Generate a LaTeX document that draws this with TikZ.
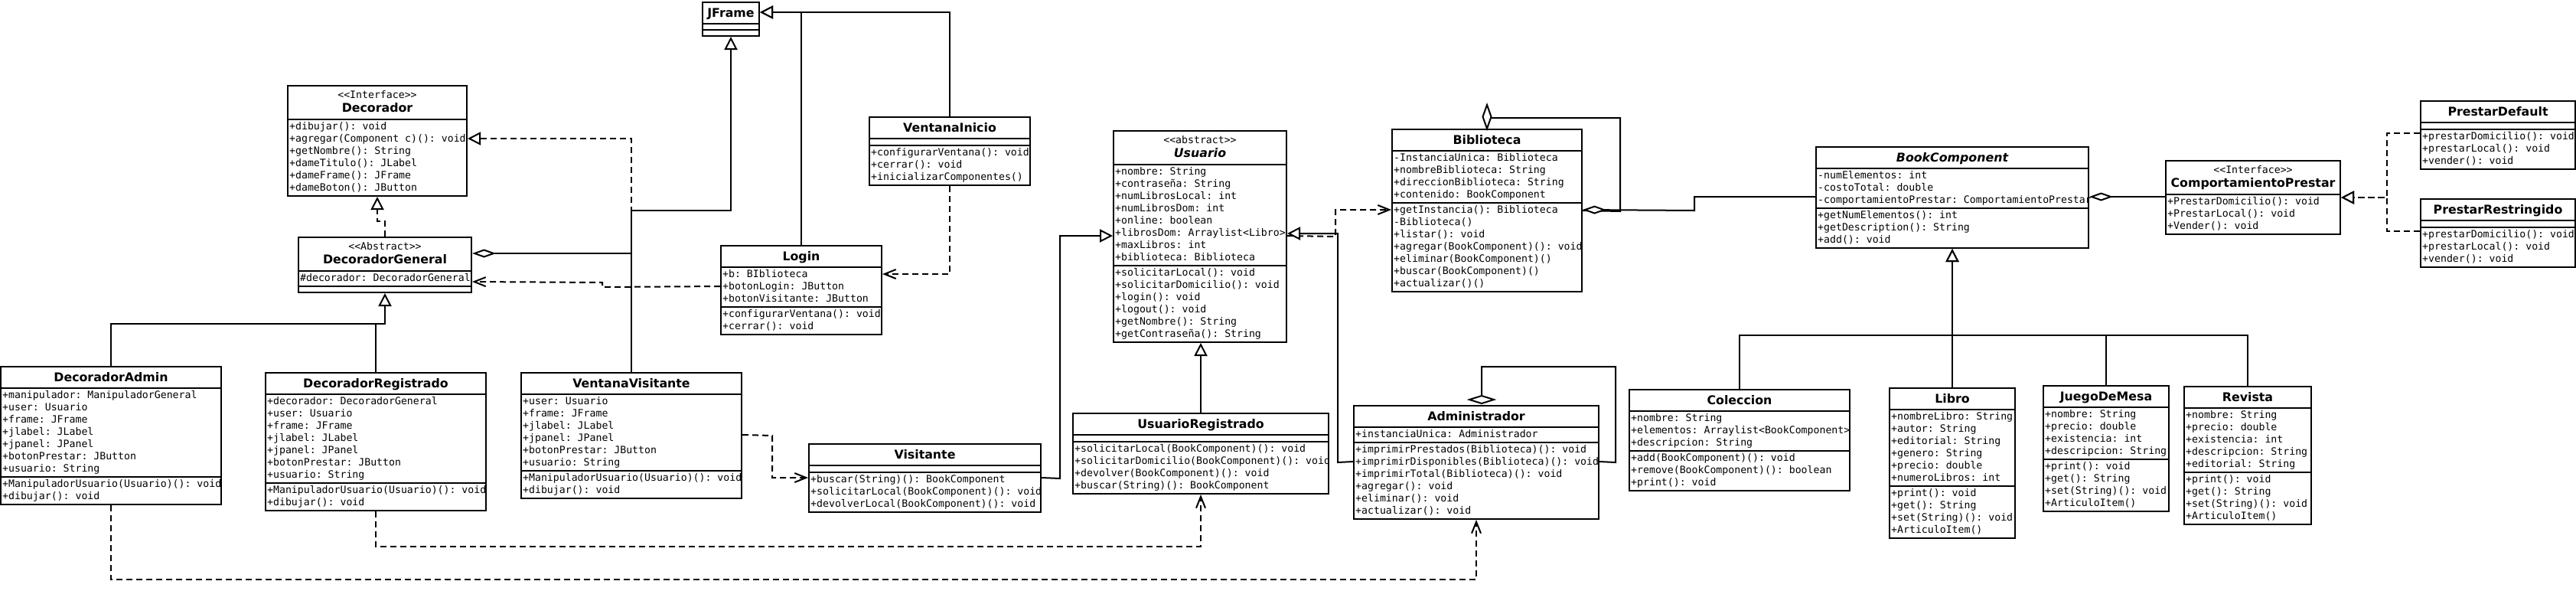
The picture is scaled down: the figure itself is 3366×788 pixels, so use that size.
\documentclass[tikz,border=0pt]{standalone}
\usepackage{fontspec}
\setmainfont{DejaVu Sans}
\setmonofont{DejaVu Sans Mono}
\usetikzlibrary{arrows.meta,calc,fit}
\newcommand\memfont{\ttfamily\fontsize{13.2}{16}\selectfont}
\newcommand\ttlfont{\fontsize{15.8}{18}\selectfont\bfseries}
\newcommand\lns[1]{\begin{tabular}[t]{@{}l@{}}#1\end{tabular}}
\begin{document}
\begin{tikzpicture}[x=1pt,y=-1pt,
 cls/.style={draw, line width=2pt, fill=white, inner sep=0pt},
 sepl/.style={line width=2pt},
 ttl/.style={anchor=base, inner sep=0pt, font=\ttlfont},
 ster/.style={anchor=base, inner sep=0pt, font=\memfont},
 mem/.style={anchor=base west, inner sep=0pt, font=\memfont},
 conn/.style={line width=2pt},
 dashl/.style={conn, dash pattern=on 8pt off 5pt},
 gen/.style={conn, -{Triangle[length=17pt,width=17pt,fill=white]}},
 real/.style={dashl, -{Triangle[length=17pt,width=17pt,fill=white]}},
 dep/.style={dashl, -{Straight Barb[length=15pt,width=12pt]}},
 agg/.style={conn, {Diamond[length=31pt,width=11pt,fill=white]}-},
 ]
\useasboundingbox (0,0) rectangle (3366,788);

% ---------- JFrame
\node[cls, fit={(918,3) (992,47)}] (jframe) {};
\draw[sepl] (918,31) -- (992,31) (918,39) -- (992,39);
\node[ttl] (jframe-t) at (955,22) {JFrame};

% ---------- Decorador
\node[cls, fit={(376,112) (610,256)}] (decorador) {};
\draw[sepl] (376,156) -- (610,156);
\node[ster] (decorador-s) at (493,128) {<<Interface>>};
\node[ttl] (decorador-t) at (493,146) {Decorador};
\node[mem] (decorador-m) at (378,169.5) {\lns{+dibujar(): void\\+agregar(Component c)(): void\\+getNombre(): String\\+dameTitulo(): JLabel\\+dameFrame(): JFrame\\+dameBoton(): JButton}};

% ---------- DecoradorGeneral
\node[cls, fit={(390,310) (616,382)}] (decgen) {};
\draw[sepl] (390,354) -- (616,354) (390,374) -- (616,374);
\node[ster] (decgen-s) at (503,326) {<<Abstract>>};
\node[ttl] (decgen-t) at (503,344) {DecoradorGeneral};
\node[mem] (decgen-a) at (392,367.5) {\lns{\#decorador: DecoradorGeneral}};

% ---------- VentanaInicio
\node[cls, fit={(1136,153) (1346,242)}] (vinicio) {};
\draw[sepl] (1136,181) -- (1346,181) (1136,190) -- (1346,190);
\node[ttl] (vinicio-t) at (1241,172) {VentanaInicio};
\node[mem] (vinicio-m) at (1138,203.5) {\lns{+configurarVentana(): void\\+cerrar(): void\\+inicializarComponentes()}};

% ---------- Login
\node[cls, fit={(942,321) (1152,437)}] (login) {};
\draw[sepl] (942,349) -- (1152,349) (942,401) -- (1152,401);
\node[ttl] (login-t) at (1047,340) {Login};
\node[mem] (login-a) at (944,362.5) {\lns{+b: BIblioteca\\+botonLogin: JButton\\+botonVisitante: JButton}};
\node[mem] (login-m) at (944,414.5) {\lns{+configurarVentana(): void\\+cerrar(): void}};

% ---------- DecoradorAdmin
\node[cls, fit={(1,479) (289,659)}] (decadmin) {};
\draw[sepl] (1,507) -- (289,507) (1,623) -- (289,623);
\node[ttl] (decadmin-t) at (145,498) {DecoradorAdmin};
\node[mem] (decadmin-a) at (3,520.5) {\lns{+manipulador: ManipuladorGeneral\\+user: Usuario\\+frame: JFrame\\+jlabel: JLabel\\+jpanel: JPanel\\+botonPrestar: JButton\\+usuario: String}};
\node[mem] (decadmin-m) at (3,636.5) {\lns{+ManipuladorUsuario(Usuario)(): void\\+dibujar(): void}};

% ---------- DecoradorRegistrado
\node[cls, fit={(347,487) (635,667)}] (decreg) {};
\draw[sepl] (347,515) -- (635,515) (347,631) -- (635,631);
\node[ttl] (decreg-t) at (491,506) {DecoradorRegistrado};
\node[mem] (decreg-a) at (349,528.5) {\lns{+decorador: DecoradorGeneral\\+user: Usuario\\+frame: JFrame\\+jlabel: JLabel\\+jpanel: JPanel\\+botonPrestar: JButton\\+usuario: String}};
\node[mem] (decreg-m) at (349,644.5) {\lns{+ManipuladorUsuario(Usuario)(): void\\+dibujar(): void}};

% ---------- VentanaVisitante
\node[cls, fit={(681,487) (969,651)}] (vvis) {};
\draw[sepl] (681,515) -- (969,515) (681,615) -- (969,615);
\node[ttl] (vvis-t) at (825,506) {VentanaVisitante};
\node[mem] (vvis-a) at (683,528.5) {\lns{+user: Usuario\\+frame: JFrame\\+jlabel: JLabel\\+jpanel: JPanel\\+botonPrestar: JButton\\+usuario: String}};
\node[mem] (vvis-m) at (683,628.5) {\lns{+ManipuladorUsuario(Usuario)(): void\\+dibujar(): void}};

% ---------- Visitante
\node[cls, fit={(1057,580) (1360,669)}] (visit) {};
\draw[sepl] (1057,608) -- (1360,608) (1057,617) -- (1360,617);
\node[ttl] (visit-t) at (1208.5,599) {Visitante};
\node[mem] (visit-m) at (1059,630.5) {\lns{+buscar(String)(): BookComponent\\+solicitarLocal(BookComponent)(): void\\+devolverLocal(BookComponent)(): void}};

% ---------- Usuario
\node[cls, fit={(1455,171) (1681,447)}] (usuario) {};
\draw[sepl] (1455,215) -- (1681,215) (1455,347) -- (1681,347);
\node[ster] (usuario-s) at (1568,187) {<<abstract>>};
\node[ttl, font=\ttlfont\itshape] (usuario-t) at (1568,205) {Usuario};
\node[mem] (usuario-a) at (1457,228.5) {\lns{+nombre: String\\+contraseña: String\\+numLibrosLocal: int\\+numLibrosDom: int\\+online: boolean\\+librosDom: Arraylist<Libro>\\+maxLibros: int\\+biblioteca: Biblioteca}};
\node[mem] (usuario-m) at (1457,360.5) {\lns{+solicitarLocal(): void\\+solicitarDomicilio(): void\\+login(): void\\+logout(): void\\+getNombre(): String\\+getContraseña(): String}};

% ---------- UsuarioRegistrado
\node[cls, fit={(1402,540) (1736,645)}] (ureg) {};
\draw[sepl] (1402,568) -- (1736,568) (1402,577) -- (1736,577);
\node[ttl] (ureg-t) at (1569,559) {UsuarioRegistrado};
\node[mem] (ureg-m) at (1404,590.5) {\lns{+solicitarLocal(BookComponent)(): void\\+solicitarDomicilio(BookComponent)(): void\\+devolver(BookComponent)(): void\\+buscar(String)(): BookComponent}};

% ---------- Biblioteca
\node[cls, fit={(1819,169) (2067,381)}] (biblio) {};
\draw[sepl] (1819,197) -- (2067,197) (1819,265) -- (2067,265);
\node[ttl] (biblio-t) at (1943,188) {Biblioteca};
\node[mem] (biblio-a) at (1821,210.5) {\lns{-InstanciaUnica: Biblioteca\\+nombreBiblioteca: String\\+direccionBiblioteca: String\\+contenido: BookComponent}};
\node[mem] (biblio-m) at (1821,278.5) {\lns{+getInstancia(): Biblioteca\\-Biblioteca()\\+listar(): void\\+agregar(BookComponent)(): void\\+eliminar(BookComponent)()\\+buscar(BookComponent)()\\+actualizar()()}};

% ---------- Administrador
\node[cls, fit={(1769,530) (2089,678)}] (admin) {};
\draw[sepl] (1769,558) -- (2089,558) (1769,578) -- (2089,578);
\node[ttl] (admin-t) at (1929,549) {Administrador};
\node[mem] (admin-a) at (1771,571.5) {\lns{+instanciaUnica: Administrador}};
\node[mem] (admin-m) at (1771,591.5) {\lns{+imprimirPrestados(Biblioteca)(): void\\+imprimirDisponibles(Biblioteca)(): void\\+imprimirTotal(Biblioteca)(): void\\+agregar(): void\\+eliminar(): void\\+actualizar(): void}};

% ---------- Coleccion
\node[cls, fit={(2129,509) (2417,641)}] (colec) {};
\draw[sepl] (2129,537) -- (2417,537) (2129,589) -- (2417,589);
\node[ttl] (colec-t) at (2273,528) {Coleccion};
\node[mem] (colec-a) at (2131,550.5) {\lns{+nombre: String\\+elementos: Arraylist<BookComponent>\\+descripcion: String}};
\node[mem] (colec-m) at (2131,602.5) {\lns{+add(BookComponent)(): void\\+remove(BookComponent)(): boolean\\+print(): void}};

% ---------- BookComponent
\node[cls, fit={(2373,192) (2729,324)}] (bookc) {};
\draw[sepl] (2373,220) -- (2729,220) (2373,272) -- (2729,272);
\node[ttl, font=\ttlfont\itshape] (bookc-t) at (2551,211) {BookComponent};
\node[mem] (bookc-a) at (2375,233.5) {\lns{-numElementos: int\\-costoTotal: double\\-comportamientoPrestar: ComportamientoPrestar}};
\node[mem] (bookc-m) at (2375,285.5) {\lns{+getNumElementos(): int\\+getDescription(): String\\+add(): void}};

% ---------- ComportamientoPrestar
\node[cls, fit={(2830,210) (3058,306)}] (comp) {};
\draw[sepl] (2830,254) -- (3058,254);
\node[ster] (comp-s) at (2944,226) {<<Interface>>};
\node[ttl] (comp-t) at (2944,244) {ComportamientoPrestar};
\node[mem] (comp-m) at (2832,267.5) {\lns{+PrestarDomicilio(): void\\+PrestarLocal(): void\\+Vender(): void}};

% ---------- PrestarDefault
\node[cls, fit={(3163,132) (3365,221)}] (pdef) {};
\draw[sepl] (3163,160) -- (3365,160) (3163,169) -- (3365,169);
\node[ttl] (pdef-t) at (3264,151) {PrestarDefault};
\node[mem] (pdef-m) at (3165,182.5) {\lns{+prestarDomicilio(): void\\+prestarLocal(): void\\+vender(): void}};

% ---------- PrestarRestringido
\node[cls, fit={(3163,260) (3365,349)}] (pres) {};
\draw[sepl] (3163,288) -- (3365,288) (3163,297) -- (3365,297);
\node[ttl] (pres-t) at (3264,279) {PrestarRestringido};
\node[mem] (pres-m) at (3165,310.5) {\lns{+prestarDomicilio(): void\\+prestarLocal(): void\\+vender(): void}};

% ---------- Libro
\node[cls, fit={(2469,507) (2633,703)}] (libro) {};
\draw[sepl] (2469,535) -- (2633,535) (2469,635) -- (2633,635);
\node[ttl] (libro-t) at (2551,526) {Libro};
\node[mem] (libro-a) at (2471,548.5) {\lns{+nombreLibro: String\\+autor: String\\+editorial: String\\+genero: String\\+precio: double\\+numeroLibros: int}};
\node[mem] (libro-m) at (2471,648.5) {\lns{+print(): void\\+get(): String\\+set(String)(): void\\+ArticuloItem()}};

% ---------- JuegoDeMesa
\node[cls, fit={(2670,504) (2834,668)}] (juego) {};
\draw[sepl] (2670,532) -- (2834,532) (2670,600) -- (2834,600);
\node[ttl] (juego-t) at (2752,523) {JuegoDeMesa};
\node[mem] (juego-a) at (2672,545.5) {\lns{+nombre: String\\+precio: double\\+existencia: int\\+descripcion: String}};
\node[mem] (juego-m) at (2672,613.5) {\lns{+print(): void\\+get(): String\\+set(String)(): void\\+ArticuloItem()}};

% ---------- Revista
\node[cls, fit={(2854,505) (3020,685)}] (revista) {};
\draw[sepl] (2854,533) -- (3020,533) (2854,617) -- (3020,617);
\node[ttl] (revista-t) at (2937,524) {Revista};
\node[mem] (revista-a) at (2856,546.5) {\lns{+nombre: String\\+precio: double\\+existencia: int\\+descripcion: String\\+editorial: String}};
\node[mem] (revista-m) at (2856,630.5) {\lns{+print(): void\\+get(): String\\+set(String)(): void\\+ArticuloItem()}};

% ================= connectors
\draw[gen] (vinicio.north) |- ($(jframe.north east)+(0,14)$);
\draw[gen] (login.north) |- ($(jframe.north east)+(0,14)$);
\draw[real] (vvis.north) |- ($(decorador.north east)+(0,70)$);
\draw[gen] (vvis.north) |- (955,275) -- (jframe.south);
\draw[agg] ($(decgen.north east)+(0,22)$) -| (vvis.north);
\draw[real] (decgen.north) -- ++(0,-20) -| (decorador.south);
\draw[conn] (decreg.north) |- (503,423);
\draw[gen] (decadmin.north) |- (503,423) -- (decgen.south);
\draw[dep] ($(login.north west)+(0,54)$) -- (787,375) -- (787,369) -- ($(decgen.north east)+(0,59)$);
\draw[dep] (vinicio.south) |- ($(login.north east)+(0,38)$);
\draw[dep] ($(vvis.north east)+(0,82)$) -- (1009,569) |- ($(visit.north west)+(0,45)$);
\draw[gen] ($(visit.north east)+(0,45)$) -- (1385,625) |- ($(usuario.north west)+(0,138)$);
\draw[gen] (ureg.north) -- (ureg.north |- usuario.south);
\draw[dep] ($(usuario.north east)+(0,138)$) -- (1745,309) |- ($(biblio.north west)+(0,106)$);
\draw[gen] ($(admin.north west)+(0,74)$) -- (1748,604) |- ($(usuario.north east)+(0,135)$);
\draw[conn] ($(biblio.north east)+(0,107)$) -- (2117,276) |- (1949,154);
\draw[conn, fill=white] (biblio.north) -- ++(5.5,-15.5) -- ++(-5.5,-15.5) -- ++(-5.5,15.5) -- cycle;
\draw[agg] ($(biblio.north east)+(0,106)$) -- (2214,275) |- ($(bookc.north west)+(0,66)$);
\draw[conn] ($(admin.north east)+(0,74)$) -- (2111,604) |- (1936,479) -- (1936,518);
\draw[conn, fill=white] ($(admin.north)+(-9,-7)$) -- ++(16,-5) -- ++(16,5) -- ++(-16,5) -- cycle;
\draw[dep] (decadmin.south) -- ++(0,97) -| (admin.south);
\draw[dep] (decreg.south) -- ++(0,46) -| (ureg.south);
\draw[agg] ($(bookc.north east)+(0,66)$) -- ($(comp.north west)+(0,48)$);
\draw[real] ($(pdef.north west)+(0,43)$) -| ($(comp.east)+(60,0)$) -- (comp.east);
\draw[real] ($(pres.north west)+(0,43)$) -| ($(comp.east)+(60,0)$) -- (comp.east);
\draw[gen] (colec.north) |- (2551,438) -- (bookc.south);
\draw[gen] (libro.north) -- (bookc.south);
\draw[conn] (juego.north) |- (2551,438);
\draw[conn] (revista.north) |- (2551,438);
\end{tikzpicture}
\end{document}
